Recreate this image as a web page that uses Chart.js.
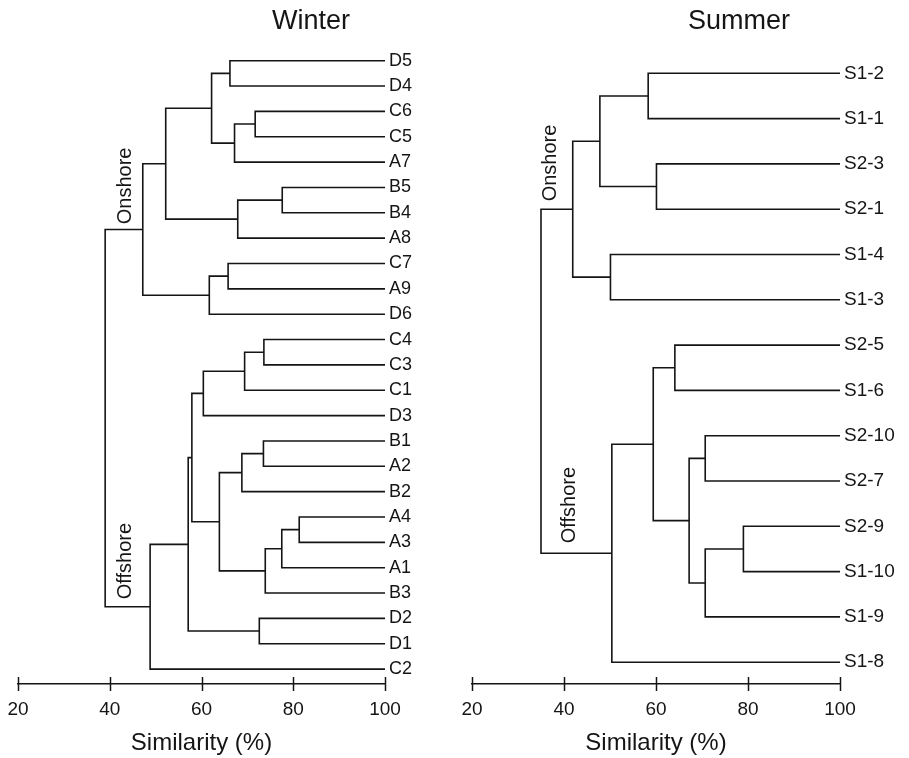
<!DOCTYPE html>
<html><head><meta charset="utf-8">
<script src="https://cdn.jsdelivr.net/npm/chart.js@4/dist/chart.umd.min.js"></script>
<style>
html,body{margin:0;padding:0;background:#fff;}
#wrap{position:relative;width:909px;height:758px;overflow:hidden;}
.c{position:absolute;top:0;height:758px;}
</style></head><body>
<div id="wrap">
<div class="c" style="left:0;width:450px"><canvas id="winter"></canvas></div>
<div class="c" style="left:450px;width:459px"><canvas id="summer"></canvas></div>
</div>
<script>
// ---- data ----
const winterLeaves = ['D5','D4','C6','C5','A7','B5','B4','A8','C7','A9','D6','C4','C3','C1','D3','B1','A2','B2','A4','A3','A1','B3','D2','D1','C2'];
// merges: [child A, child B, similarity %]; '#k' refers to merge k
const winterMerges = [
  ['D5','D4',66.2], ['C6','C5',71.7], ['#1','A7',67.2], ['#0','#2',62.2],
  ['B5','B4',77.6], ['#4','A8',67.9], ['#3','#5',52.2], ['C7','A9',65.8],
  ['#7','D6',61.7], ['#6','#8',47.2], ['C4','C3',73.6], ['#10','C1',69.4],
  ['#11','D3',60.4], ['B1','A2',73.5], ['#13','B2',68.8], ['A4','A3',81.3],
  ['#15','A1',77.5], ['#16','B3',73.9], ['#14','#17',63.9], ['#12','#18',57.9],
  ['D2','D1',72.6], ['#19','#20',57.1], ['#21','C2',48.8], ['#9','#22',39.0]
];
const summerLeaves = ['S1-2','S1-1','S2-3','S2-1','S1-4','S1-3','S2-5','S1-6','S2-10','S2-7','S2-9','S1-10','S1-9','S1-8'];
const summerMerges = [
  ['S1-2','S1-1',58.3], ['S2-3','S2-1',60.1], ['#0','#1',47.8], ['S1-4','S1-3',50.1],
  ['#2','#3',41.9], ['S2-5','S1-6',64.1], ['S2-10','S2-7',70.7], ['S2-9','S1-10',79.0],
  ['#7','S1-9',70.7], ['#6','#8',67.2], ['#5','#9',59.4], ['#10','S1-8',50.4], ['#4','#11',35.0]
];
const similarityTicks = [20, 40, 60, 80, 100];
const leafSimilarity = 100;

// ---- build ----
const INK = '#151515';
const FONT = '"Liberation Sans", Arial, Helvetica, sans-serif';

function buildDatasets(leaves, merges){
  const nodes = [];
  const get = id => id.startsWith('#') ? nodes[+id.slice(1)] : {x: leafSimilarity, y: leaves.indexOf(id)};
  return merges.map(([a, b, h], k) => {
    const A = get(a), B = get(b);
    nodes[k] = {x: h, y: (A.y + B.y) / 2};
    return {
      data: [{x: A.x, y: A.y}, {x: h, y: A.y}, {x: h, y: B.y}, {x: B.x, y: B.y}],
      showLine: true, borderColor: INK, borderWidth: 1.6, pointRadius: 0,
      tension: 0, fill: false, clip: false
    };
  });
}

const overlay = {
  id: 'overlay',
  afterDraw(chart, args, opts){
    const ctx = chart.ctx, xs = chart.scales.x, ys = chart.scales.y;
    ctx.save();
    // crossing tick marks
    ctx.strokeStyle = INK; ctx.lineWidth = 1.5;
    const y0 = chart.chartArea.bottom;
    xs.ticks.forEach(t => {
      const px = Math.round(xs.getPixelForValue(t.value)) + 0.5;
      ctx.beginPath(); ctx.moveTo(px, y0 - 7); ctx.lineTo(px, y0 + 7); ctx.stroke();
    });
    // panel title
    ctx.fillStyle = INK;
    ctx.font = '27px ' + FONT;
    ctx.textAlign = 'center'; ctx.textBaseline = 'middle';
    ctx.fillText(opts.title, opts.titleX, 22);
    // group labels (rotated)
    ctx.font = '20px ' + FONT;
    opts.groups.forEach(g => {
      ctx.save();
      ctx.translate(xs.getPixelForValue(g.x), ys.getPixelForValue(g.y));
      ctx.rotate(-Math.PI / 2);
      ctx.fillText(g.text, 0, 0);
      ctx.restore();
    });
    ctx.restore();
  }
};

function makeChart(id, leaves, merges, yMin, yMax, padL, padR, labelSize, title, titleX, groups){
  return new Chart(document.getElementById(id), {
    type: 'scatter',
    data: {datasets: buildDatasets(leaves, merges)},
    plugins: [overlay],
    options: {
      responsive: true, maintainAspectRatio: false, animation: false,
      layout: {padding: {left: padL, right: padR, top: 40, bottom: 0}},
      plugins: {legend: {display: false}, tooltip: {enabled: false}, overlay: {title, titleX, groups}},
      scales: {
        x: {
          type: 'linear', position: 'bottom', min: 20, max: 100,
          afterBuildTicks: s => { s.ticks = similarityTicks.map(v => ({value: v})); },
          afterFit: s => { s.height = 74; s.paddingLeft = 0; s.paddingRight = 0; },
          grid: {display: false, drawTicks: false},
          border: {display: true, color: INK, width: 1.5},
          ticks: {color: INK, font: {family: FONT, size: 19}, padding: 14, maxRotation: 0},
          title: {display: true, text: 'Similarity (%)', color: INK, font: {family: FONT, size: 24}, padding: {top: 0, bottom: 0}}
        },
        y: {
          type: 'linear', position: 'right', reverse: true, min: yMin, max: yMax,
          afterBuildTicks: s => { s.ticks = leaves.map((_, i) => ({value: i})); },
          afterFit: s => { s.width = 55; s.paddingTop = 0; s.paddingBottom = 0; },
          grid: {display: false, drawTicks: false},
          border: {display: false},
          ticks: {color: INK, font: {family: FONT, size: labelSize}, padding: 4, autoSkip: false,
                  callback: v => leaves[v]}
        }
      }
    }
  });
}

makeChart('winter', winterLeaves, winterMerges, -0.8166, 24.588, 18, 10, 18, 'Winter', 311,
  [{text: 'Onshore', x: 43.5, y: 4.94}, {text: 'Offshore', x: 43.5, y: 19.74}]);
makeChart('summer', summerLeaves, summerMerges, -0.735, 13.481, 22, 14, 19, 'Summer', 289,
  [{text: 'Onshore', x: 36.96, y: 1.98}, {text: 'Offshore', x: 41.1, y: 9.53}]);
</script>
</body></html>
